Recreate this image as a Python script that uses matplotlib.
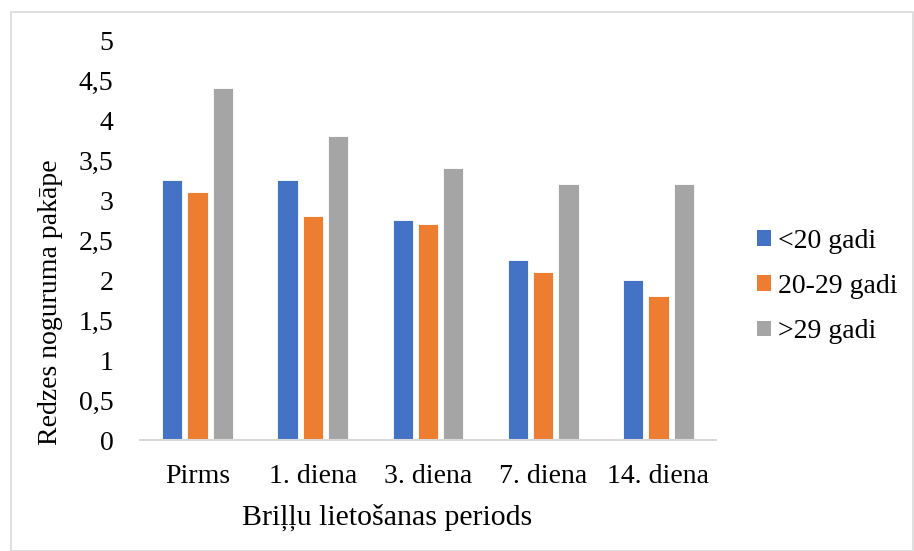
import matplotlib
matplotlib.use("Agg")
import matplotlib.pyplot as plt
import numpy as np
from matplotlib.patches import Rectangle, Patch
from matplotlib.ticker import FuncFormatter

categories = ["Pirms", "1. diena", "3. diena", "7. diena", "14. diena"]
series_names = ["<20 gadi", "20-29 gadi", ">29 gadi"]
under_20 = [3.25, 3.25, 2.75, 2.25, 2.0]
age_20_29 = [3.1, 2.8, 2.7, 2.1, 1.8]
over_29 = [4.4, 3.8, 3.4, 3.2, 3.2]
colors = ["#4472C4", "#ED7D31", "#A5A5A5"]

plt.rcParams['font.family'] = ['Liberation Serif', 'DejaVu Serif']

fig = plt.figure(figsize=(9.14, 5.51), dpi=100)
ax = fig.add_axes([140/914, 1-440/551, 576/914, 400/551])

x = np.arange(len(categories))
w = 0.176
step = 0.22
for i, (vals, name) in enumerate(zip([under_20, age_20_29, over_29], series_names)):
    ax.bar(x + (i-1)*step, vals, width=w, color=colors[i], edgecolor='white',
           linewidth=0.6, label=name, zorder=2)

ax.set_xlim(-0.5, len(categories)-0.5)
ax.set_ylim(0, 5)
ax.set_yticks(np.arange(0, 5.01, 0.5))
ax.yaxis.set_major_formatter(FuncFormatter(lambda v, p: (f"{v:g}").replace('.', ',')))
ax.set_xticks(x)
ax.set_xticklabels(categories)
for s in ['top', 'right', 'left']:
    ax.spines[s].set_visible(False)
ax.spines['bottom'].set_color('#D9D9D9')
ax.spines['bottom'].set_linewidth(1.5)
ax.tick_params(axis='both', length=0, labelsize=20)
ax.tick_params(axis='y', pad=19)
ax.tick_params(axis='x', pad=17)

fig.text(387.5/914, 1-517/551, "Briļļu lietošanas periods", fontsize=21.5,
         ha='center', va='center')
fig.text(51/914, 1-302.5/551, "Redzes noguruma pakāpe", fontsize=20, rotation=90,
         ha='center', va='center')

handles = [Patch(facecolor=c, edgecolor='none') for c in colors]
fig.legend(handles, series_names, loc='center left', bbox_to_anchor=(757/914, 1-286.5/551),
           frameon=False, fontsize=20, handlelength=0.5, handleheight=0.5,
           handletextpad=0.25, labelspacing=0.73, borderpad=0, borderaxespad=0)

fig.patches.append(Rectangle((10.5/914, 0), (913-10.5)/914, 1-12/551, transform=fig.transFigure,
                             fill=False, edgecolor='#D9D9D9', linewidth=1.2))

fig.savefig("out.png", dpi=100)
